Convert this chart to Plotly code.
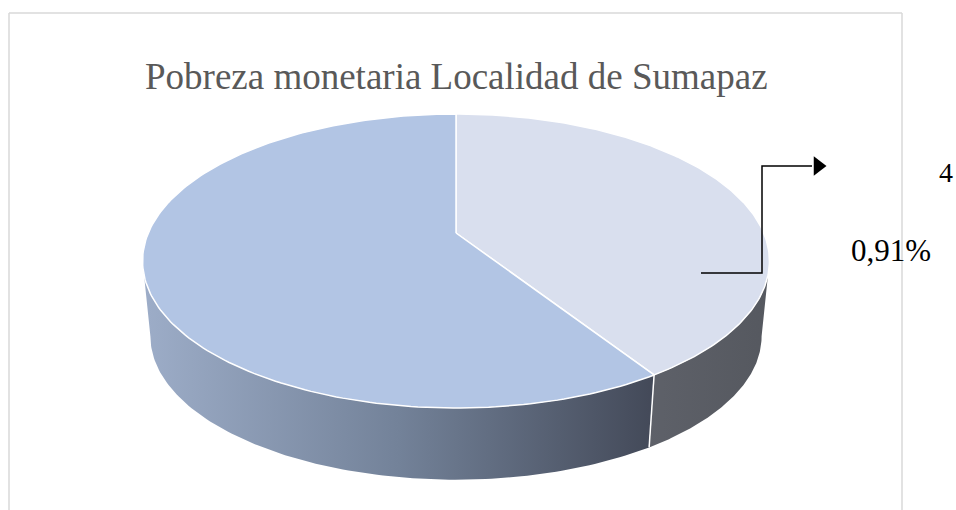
import numpy as np
import plotly.graph_objects as go

# ---- data ----
categories = ["Pobres", "No pobres"]
values = [40.91, 59.09]
label_parts = ["4", "0,91%"]
title_text = "Pobreza monetaria Localidad de Sumapaz"

# ---- geometry / style (page-pixel coordinates) ----
W, H = 956, 510
CX, CY = 456, 233
KR, MR, U = 307.7, 141.7, 0.1905
DC, SHRINK = 76, 0.975
top_colors = ["#D9DFEE", "#B2C5E4"]
side_scales = [
    [[0, "#5E6169"], [1, "#55585F"]],
    [[0, "#9DADC8"], [0.5, "#738299"], [1, "#434958"]],
]


def top_pt(th):
    s, c = np.sin(th), np.cos(th)
    w = 1 + U * c
    return CX + KR * s / w, CY - MR * c / w


def bot_pt(th):
    s, c = np.sin(th), np.cos(th)
    w = 1 + U * c
    return CX + SHRINK * KR * s / w, CY + DC - SHRINK * MR * c / w


fig = go.Figure()

total = sum(values)
cum = np.concatenate([[0], np.cumsum(values)]) / total * 2 * np.pi
va = np.arccos(-U)
vb = 2 * np.pi - va

# side walls
for i in range(len(values)):
    a0, a1 = max(cum[i], va), min(cum[i + 1], vb)
    if a1 <= a0:
        continue
    th = np.linspace(a0, a1, 120)
    tx, ty = top_pt(th)
    bx, by = bot_pt(th[::-1])
    xs = np.concatenate([tx, bx, tx[:1]])
    ys = np.concatenate([ty, by, ty[:1]])
    fig.add_trace(go.Scatter(
        x=xs, y=ys, mode="lines", fill="toself",
        fillgradient=dict(type="horizontal", colorscale=side_scales[i]),
        line=dict(width=0), hoverinfo="skip", showlegend=False,
        name=categories[i]))

# separators on side wall
for a in cum[1:-1]:
    if va < a < vb:
        x0, y0 = top_pt(a)
        x1, y1 = bot_pt(a)
        fig.add_trace(go.Scatter(x=[x0, x1], y=[y0, y1], mode="lines",
                                 line=dict(color="white", width=1.5),
                                 hoverinfo="skip", showlegend=False))

# top faces
for i in range(len(values)):
    th = np.linspace(cum[i], cum[i + 1], 200)
    tx, ty = top_pt(th)
    xs = np.concatenate([[CX], tx, [CX]])
    ys = np.concatenate([[CY], ty, [CY]])
    fig.add_trace(go.Scatter(
        x=xs, y=ys, mode="lines", fill="toself", fillcolor=top_colors[i],
        line=dict(color="white", width=1.5), hoverinfo="text",
        text=f"{categories[i]}: {values[i]:.2f}%".replace(".", ","),
        showlegend=False, name=categories[i]))

# leader arrow
fig.add_trace(go.Scatter(x=[701, 762, 762, 812], y=[273, 273, 166, 166],
                         mode="lines", line=dict(color="black", width=1.5),
                         hoverinfo="skip", showlegend=False))
fig.add_trace(go.Scatter(x=[818], y=[166], mode="markers",
                         marker=dict(symbol="triangle-right", size=17, color="black"),
                         hoverinfo="skip", showlegend=False))

serif = "Liberation Serif, Times New Roman, serif"
fig.add_annotation(x=456, y=76, text=title_text, showarrow=False,
                   xanchor="center", yanchor="middle",
                   font=dict(family=serif, size=37, color="#595959"))
fig.add_annotation(x=937, y=172, text=label_parts[0], showarrow=False,
                   xanchor="left", yanchor="middle",
                   font=dict(family=serif, size=28, color="black"))
fig.add_annotation(x=849, y=250, text=label_parts[1], showarrow=False,
                   xanchor="left", yanchor="middle",
                   font=dict(family=serif, size=31, color="black"))

# chart frame
for (x0, y0, x1, y1) in [(9, 13, 902, 13), (9, 13, 9, 520), (902, 13, 902, 520)]:
    fig.add_shape(type="line", x0=x0, y0=y0, x1=x1, y1=y1, xref="x", yref="y",
                  line=dict(color="#D9D9D9", width=1.5), layer="below")

fig.update_layout(
    width=W, height=H, margin=dict(l=0, r=0, t=0, b=0),
    paper_bgcolor="white", plot_bgcolor="white",
    xaxis=dict(range=[0, W], visible=False, fixedrange=True),
    yaxis=dict(range=[H, 0], visible=False, fixedrange=True),
)

fig.write_html(
    "out.html",
    config={"displayModeBar": False},
    post_script="document.body.style.margin='0';document.body.style.overflow='hidden';",
)
